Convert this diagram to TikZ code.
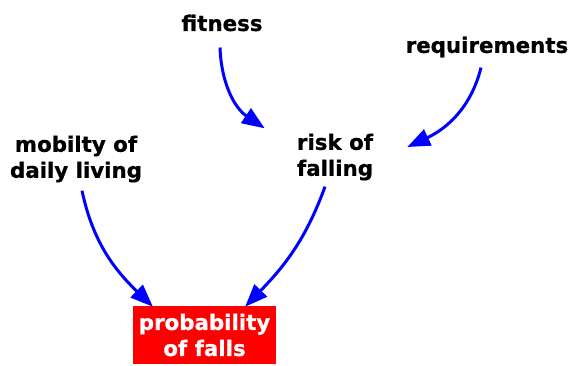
\documentclass[tikz,border=0pt]{standalone}
\usepackage{fontspec}
\setmainfont{DejaVu Sans}[BoldFeatures={FakeBold=0.8}]
\usetikzlibrary{arrows.meta}
\begin{document}
\begin{tikzpicture}[x=0.75pt,y=0.75pt,
    every node/.style={inner sep=0pt,align=center,font=\fontsize{16}{19.5}\selectfont\bfseries},
    factor/.style={text=black},
    result/.style={fill=red,text=white,minimum width=107pt,minimum height=43.5pt},
    link/.style={draw=blue,line width=2.25pt,-{Triangle[length=17pt,width=13pt]}}]
  \useasboundingbox (0,0) rectangle (571,365);
  \node[factor] (fitness) at (222,342) {fitness};
  \node[factor] (req) at (487,318) {requirements};
  \node[factor] (mobility) at (76,206) {mobilty of\\daily living};
  \node[factor] (risk) at (335,208) {risk of\\falling};
  \node[result] (falls) at (204.5,30) {probability\\of falls};
  \draw[link] ([shift={(-2,-16)}]fitness.south) to[out=-88,in=146] ([shift={(-32,5)}]risk.north west);
  \draw[link] ([shift={(-6,-10)}]req.south) to[out=-104,in=25] ([shift={(34,10)}]risk.east);
  \draw[link] ([shift={(6,-8)}]mobility.south) to[out=-78,in=136] ([shift={(20,-1)}]falls.north west);
  \draw[link] ([shift={(-10,-6)}]risk.south) to[out=-110,in=46] ([shift={(-31,-1)}]falls.north east);
\end{tikzpicture}
\end{document}
